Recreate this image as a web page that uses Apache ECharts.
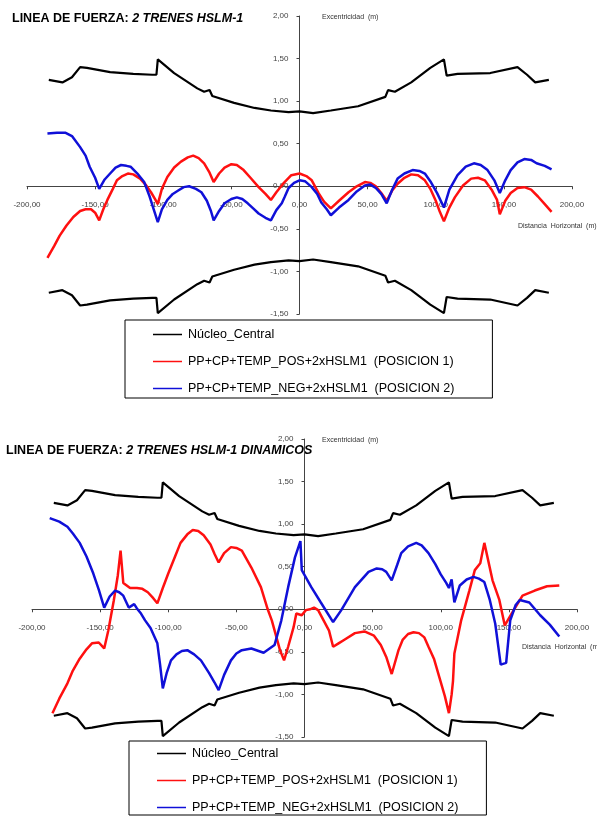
<!DOCTYPE html>
<html><head><meta charset="utf-8">
<script src="https://cdn.jsdelivr.net/npm/echarts@6/dist/echarts.min.js"></script>
<style>html,body{margin:0;padding:0;background:#fff}#c{width:597px;height:816px}</style>
</head><body><div id="c"></div>
<script>
const xTicks = [-200,-150,-100,-50,0,50,100,150,200];
const yTicks = [-1.5,-1,-0.5,0,0.5,1,1.5,2];
const seriesNames = ['Núcleo_Central','PP+CP+TEMP_POS+2xHSLM1  (POSICION 1)','PP+CP+TEMP_NEG+2xHSLM1  (POSICION 2)'];

const nucleoSup = [[-184,1.25],[-174,1.22],[-167,1.28],[-161,1.40],[-156,1.39],[-139,1.34],[-122,1.32],[-108,1.31],[-105,1.31],[-104,1.49],[-92,1.33],[-75,1.15],[-70,1.11],[-66,1.13],[-64,1.06],[-48,0.98],[-33,0.92],[-21,0.89],[-8,0.87],[0,0.88],[10,0.86],[23,0.89],[43,0.94],[63,1.05],[65,1.13],[70,1.11],[82,1.22],[96,1.39],[106,1.49],[108,1.30],[116,1.32],[140,1.33],[160,1.40],[167,1.31],[173,1.22],[183,1.25]];
const nucleoInf = [[-184,-1.25],[-174,-1.22],[-167,-1.28],[-161,-1.40],[-156,-1.39],[-139,-1.34],[-122,-1.32],[-108,-1.31],[-105,-1.31],[-104,-1.49],[-92,-1.33],[-75,-1.15],[-70,-1.11],[-66,-1.13],[-64,-1.06],[-48,-0.98],[-33,-0.92],[-21,-0.89],[-8,-0.87],[0,-0.88],[10,-0.86],[23,-0.89],[43,-0.94],[63,-1.05],[65,-1.13],[70,-1.11],[82,-1.22],[96,-1.39],[106,-1.49],[108,-1.30],[116,-1.32],[140,-1.33],[160,-1.40],[167,-1.31],[173,-1.22],[183,-1.25]];

const estPos = [[-185,-0.84],[-180,-0.70],[-176,-0.58],[-171,-0.46],[-166,-0.36],[-161,-0.29],[-157,-0.27],[-153,-0.27],[-150,-0.31],[-147,-0.40],[-144,-0.27],[-141,-0.16],[-137,-0.03],[-134,0.07],[-130,0.12],[-126,0.15],[-122,0.14],[-117,0.09],[-113,0.02],[-109,-0.07],[-106,-0.15],[-104,-0.21],[-101,-0.03],[-97,0.11],[-92,0.22],[-87,0.29],[-82,0.34],[-78,0.36],[-74,0.33],[-70,0.27],[-66,0.16],[-63,0.05],[-59,0.15],[-55,0.22],[-50,0.26],[-46,0.25],[-41,0.19],[-36,0.10],[-30,-0.01],[-25,-0.09],[-21,-0.16],[-17,-0.07],[-12,0.03],[-6,0.13],[0,0.15],[5,0.12],[9,0.07],[14,-0.08],[18,-0.18],[23,-0.26],[29,-0.17],[36,-0.07],[42,0.00],[48,0.05],[52,0.04],[56,0.00],[60,-0.08],[64,-0.17],[68,-0.05],[72,0.03],[77,0.10],[82,0.14],[87,0.13],[92,0.07],[96,-0.03],[100,-0.17],[103,-0.30],[106,-0.41],[110,-0.25],[114,-0.13],[120,0.01],[126,0.09],[131,0.10],[136,0.07],[141,-0.04],[145,-0.16],[147,-0.33],[151,-0.17],[155,-0.08],[160,-0.02],[165,-0.01],[170,-0.04],[175,-0.12],[180,-0.21],[185,-0.30]];
const estNeg = [[-185,0.62],[-178,0.63],[-172,0.63],[-167,0.59],[-161,0.46],[-157,0.36],[-154,0.23],[-150,0.10],[-147,-0.03],[-143,0.08],[-139,0.15],[-135,0.22],[-131,0.25],[-127,0.24],[-124,0.23],[-119,0.15],[-114,0.05],[-110,-0.12],[-107,-0.27],[-104,-0.42],[-101,-0.27],[-97,-0.16],[-93,-0.09],[-89,-0.05],[-85,-0.01],[-81,0.00],[-76,-0.03],[-72,-0.07],[-68,-0.17],[-65,-0.29],[-63,-0.40],[-59,-0.29],[-55,-0.20],[-50,-0.15],[-46,-0.13],[-42,-0.15],[-38,-0.20],[-34,-0.26],[-30,-0.32],[-25,-0.37],[-21,-0.40],[-17,-0.28],[-13,-0.20],[-11,-0.13],[-8,-0.02],[-4,0.04],[0,0.07],[4,0.06],[9,-0.01],[13,-0.09],[16,-0.19],[20,-0.27],[23,-0.34],[29,-0.25],[36,-0.16],[42,-0.06],[48,0.01],[52,0.02],[56,-0.02],[60,-0.09],[64,-0.20],[68,-0.04],[72,0.09],[77,0.15],[83,0.19],[88,0.18],[92,0.15],[96,0.06],[101,-0.08],[106,-0.25],[110,-0.04],[116,0.13],[122,0.23],[128,0.27],[133,0.25],[138,0.19],[143,0.07],[147,-0.08],[151,0.07],[155,0.19],[160,0.28],[165,0.32],[170,0.31],[174,0.27],[180,0.24],[185,0.20]];

const dinPos = [[-185,-1.22],[-180,-1.05],[-174,-0.87],[-170,-0.72],[-165,-0.58],[-160,-0.47],[-156,-0.40],[-151,-0.39],[-147,-0.46],[-144,-0.25],[-140,0.10],[-137,0.40],[-135,0.69],[-133,0.31],[-128,0.25],[-123,0.25],[-119,0.24],[-115,0.20],[-111,0.13],[-108,0.07],[-104,0.25],[-100,0.42],[-95,0.62],[-91,0.78],[-86,0.88],[-82,0.93],[-78,0.92],[-74,0.87],[-69,0.76],[-66,0.65],[-63,0.55],[-59,0.66],[-54,0.73],[-50,0.72],[-46,0.69],[-39,0.49],[-32,0.26],[-27,0.00],[-24,-0.13],[-18,-0.48],[-15,-0.60],[-12,-0.44],[-8,-0.21],[-6,-0.05],[-2,-0.07],[1,-0.01],[4,0.00],[7,0.02],[10,-0.01],[14,-0.13],[18,-0.25],[21,-0.44],[25,-0.40],[29,-0.36],[37,-0.28],[44,-0.26],[51,-0.31],[56,-0.42],[60,-0.56],[64,-0.76],[69,-0.48],[72,-0.36],[76,-0.29],[80,-0.27],[84,-0.28],[88,-0.33],[91,-0.44],[95,-0.58],[99,-0.80],[103,-1.02],[106,-1.22],[108,-1.00],[109,-0.84],[110,-0.52],[115,-0.13],[121,0.22],[125,0.46],[129,0.54],[132,0.78],[138,0.34],[143,0.11],[147,-0.19],[152,-0.05],[160,0.16],[169,0.22],[178,0.27],[187,0.28]];
const dinNeg = [[-187,1.07],[-180,1.03],[-174,0.97],[-170,0.89],[-165,0.78],[-160,0.62],[-155,0.42],[-151,0.23],[-147,0.02],[-143,0.15],[-139,0.22],[-136,0.20],[-133,0.16],[-129,0.02],[-125,0.06],[-123,0.01],[-120,-0.05],[-117,-0.13],[-113,-0.22],[-108,-0.40],[-106,-0.65],[-104,-0.93],[-101,-0.74],[-98,-0.60],[-94,-0.53],[-90,-0.49],[-86,-0.48],[-81,-0.53],[-76,-0.60],[-70,-0.75],[-66,-0.86],[-63,-0.95],[-59,-0.77],[-54,-0.60],[-50,-0.52],[-46,-0.48],[-39,-0.46],[-30,-0.51],[-22,-0.42],[-17,-0.13],[-12,0.26],[-7,0.61],[-3,0.80],[-2,0.46],[5,0.26],[12,0.08],[21,-0.15],[27,-0.01],[37,0.26],[47,0.44],[53,0.48],[57,0.47],[60,0.44],[64,0.34],[68,0.52],[71,0.66],[76,0.74],[82,0.78],[86,0.75],[91,0.66],[96,0.53],[100,0.41],[104,0.31],[106,0.25],[108,0.35],[110,0.08],[114,0.28],[119,0.35],[124,0.38],[128,0.36],[132,0.32],[136,0.11],[140,-0.17],[144,-0.65],[148,-0.63],[151,-0.13],[155,0.05],[158,0.11],[165,0.08],[173,-0.07],[180,-0.18],[187,-0.32]];

const FONT = '"Liberation Sans", Arial, sans-serif';
const fmt = v => v.toFixed(2).replace('.', ',');
const colors = ['#000000', '#ff1010', '#1010d8'];
const GRID_H = 298;
const zeroFromBottom = GRID_H * (0 - yTicks[0]) / (yTicks[yTicks.length-1] - yTicks[0]);
const plotW = 545;
const zeroFromLeft = plotW * (0 - xTicks[0]) / (xTicks[xTicks.length-1] - xTicks[0]);

function xAxisFor(gi) {
  return {
    type: 'value', gridIndex: gi, position: 'bottom', offset: -zeroFromBottom,
    min: xTicks[0], max: xTicks[xTicks.length-1], interval: xTicks[1]-xTicks[0],
    axisLine: {onZero: false, lineStyle: {color: '#444', width: 1}},
    axisTick: {show: true, length: 3, lineStyle: {color: '#444'}},
    axisLabel: {formatter: fmt, fontSize: 8, color: '#444', fontFamily: FONT, margin: 15},
    splitLine: {show: false}
  };
}
function yAxisFor(gi) {
  return {
    type: 'value', gridIndex: gi, position: 'left', offset: -zeroFromLeft,
    min: yTicks[0], max: yTicks[yTicks.length-1], interval: yTicks[1]-yTicks[0],
    axisLine: {show: true, onZero: false, lineStyle: {color: '#444', width: 1}},
    axisTick: {show: true, length: 3, lineStyle: {color: '#444'}},
    axisLabel: {formatter: fmt, fontSize: 8, color: '#444', fontFamily: FONT, margin: 11},
    splitLine: {show: false}
  };
}
function lineSeries(gi, name, data, color, width) {
  return {type: 'line', name: name, xAxisIndex: gi, yAxisIndex: gi, data: data, showSymbol: false, symbol: 'none',
    lineStyle: {color: color, width: width}, itemStyle: {color: color}, animation: false, z: name === seriesNames[0] ? 3 : 2};
}

const series = [];
[[estPos, estNeg], [dinPos, dinNeg]].forEach((pair, gi) => {
  series.push(lineSeries(gi, seriesNames[0], nucleoSup, colors[0], 2.2));
  series.push(lineSeries(gi, seriesNames[0], nucleoInf, colors[0], 2.2));
  series.push(lineSeries(gi, seriesNames[1], pair[0], colors[1], 2.5));
  series.push(lineSeries(gi, seriesNames[2], pair[1], colors[2], 2.5));
});

function legendFor(left, top, padding) {
  return {
    show: true, data: seriesNames, orient: 'vertical', left: left, top: top, padding: padding,
    icon: 'rect', itemWidth: 29, itemHeight: 1.5, itemGap: 12, selectedMode: false,
    borderColor: '#000', borderWidth: 1, backgroundColor: '#fff',
    textStyle: {fontSize: 12.5, color: '#000', fontFamily: FONT, lineHeight: 15, padding: [0, 0, 0, 1]}
  };
}

function titleText(x, y, main, ital) {
  return {type: 'text', left: x, top: y, style: {
    text: '{a|' + main + '}{b|' + ital + '}',
    rich: {
      a: {fontSize: 12.5, fontWeight: 'bold', fontFamily: FONT, fill: '#000'},
      b: {fontSize: 12.5, fontWeight: 'bold', fontStyle: 'italic', fontFamily: FONT, fill: '#000'}
    }}};
}
function smallText(x, y, t) {
  return {type: 'text', left: x, top: y, style: {text: t, fontSize: 7, fill: '#333', fontFamily: FONT}};
}

const option = {
  animation: false,
  grid: [
    {left: 27, right: 25, top: 16, height: GRID_H, containLabel: false},
    {left: 32, right: 20, top: 439, height: GRID_H, containLabel: false}
  ],
  xAxis: [xAxisFor(0), xAxisFor(1)],
  yAxis: [yAxisFor(0), yAxisFor(1)],
  legend: [legendFor(125, 320, [7, 38, 2, 28]), legendFor(129, 741, [5, 28, 0, 28])],
  series: series,
  graphic: [
    titleText(12, 12, 'LINEA DE FUERZA: ', '2 TRENES HSLM-1'),
    titleText(6, 444, 'LINEA DE FUERZA: ', '2 TRENES HSLM-1 DINAMICOS'),
    smallText(322, 14, 'Excentricidad  (m)'),
    smallText(518, 223, 'Distancia  Horizontal  (m)'),
    smallText(322, 437, 'Excentricidad  (m)'),
    smallText(522, 644, 'Distancia  Horizontal  (m)')
  ]
};
const chart = echarts.init(document.getElementById('c'), null, {renderer: 'canvas'});
chart.setOption(option);
</script>
</body></html>
